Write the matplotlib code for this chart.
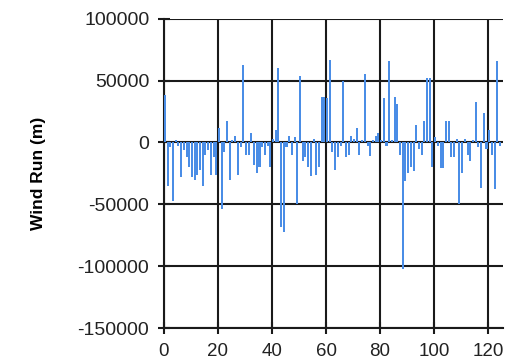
import numpy as np
import matplotlib
matplotlib.use('Agg')
from matplotlib import pyplot as plt

# daily wind run values
day = list(range(125))
wind_run = [38000, -35000, -4000, -47000, 2000, -3000, -28000, -6000, -12000, -20000,
            -28000, -30000, -26000, -22000, -35000, -10000, -6000, -26000, -12000, -26000,
            12000, -54000, -8000, 17000, -30000, 2000, 5000, -26000, -4000, 63000,
            -10000, -10000, 8000, -18000, -25000, -20000, -4000, -10000, -3000, -20000,
            3000, 10000, 60000, -68000, -72000, -4000, 5000, -10000, 4000, -50000,
            54000, -15000, -12000, -20000, -27000, 3000, -26000, -20000, 37000, 37000,
            36000, 67000, -8000, -22000, -12000, -3000, 50000, -12000, -10000, 5000,
            3000, 12000, -10000, 2000, 55000, -3000, -11000, 2000, 5000, 8000,
            2000, 36000, -3000, 66000, 2000, 37000, 31000, -10000, -102000, -31000,
            -25000, -20000, -23000, 14000, -5000, -10000, 17000, 52000, 52000, -20000,
            4000, -3000, -21000, -21000, 17000, 17000, -12000, -12000, 3000, -50000,
            -25000, 3000, -10000, -15000, 2000, 33000, -4000, -37000, 24000, -5000,
            10000, -10000, -38000, 66000, -3000]

plt.rcParams['font.family'] = ['Liberation Sans', 'DejaVu Sans']
plt.rcParams['axes.unicode_minus'] = False

fig = plt.figure(figsize=(5.17, 3.63), dpi=100)
ax = fig.add_axes([0.317, 0.0964, 0.656, 0.852])

ax.bar(day, wind_run, width=0.75, color='#4a8de6', align='edge', zorder=3)

ax.set_xlim(0, 125.5)
ax.set_ylim(-150000, 100000)
ax.set_xticks(range(0, 121, 20))
ax.set_yticks(range(-150000, 100001, 50000))
ax.grid(True, color='#1a1a1a', linewidth=1.5, zorder=1)
ax.set_axisbelow(True)

for s in ['top', 'right']:
    ax.spines[s].set_visible(False)
for s in ['left', 'bottom']:
    ax.spines[s].set_color('#1a1a1a')
    ax.spines[s].set_linewidth(1.5)

ax.tick_params(direction='inout', length=9, width=1.5, color='#1a1a1a',
               labelsize=14, labelcolor='#222222')
ax.tick_params(axis='y', pad=6)
ax.tick_params(axis='x', pad=6, labelsize=13.5)
ax.set_ylabel('Wind Run (m)', fontsize=12.5, fontweight='bold', labelpad=23)

plt.savefig('out.png', dpi=100)
